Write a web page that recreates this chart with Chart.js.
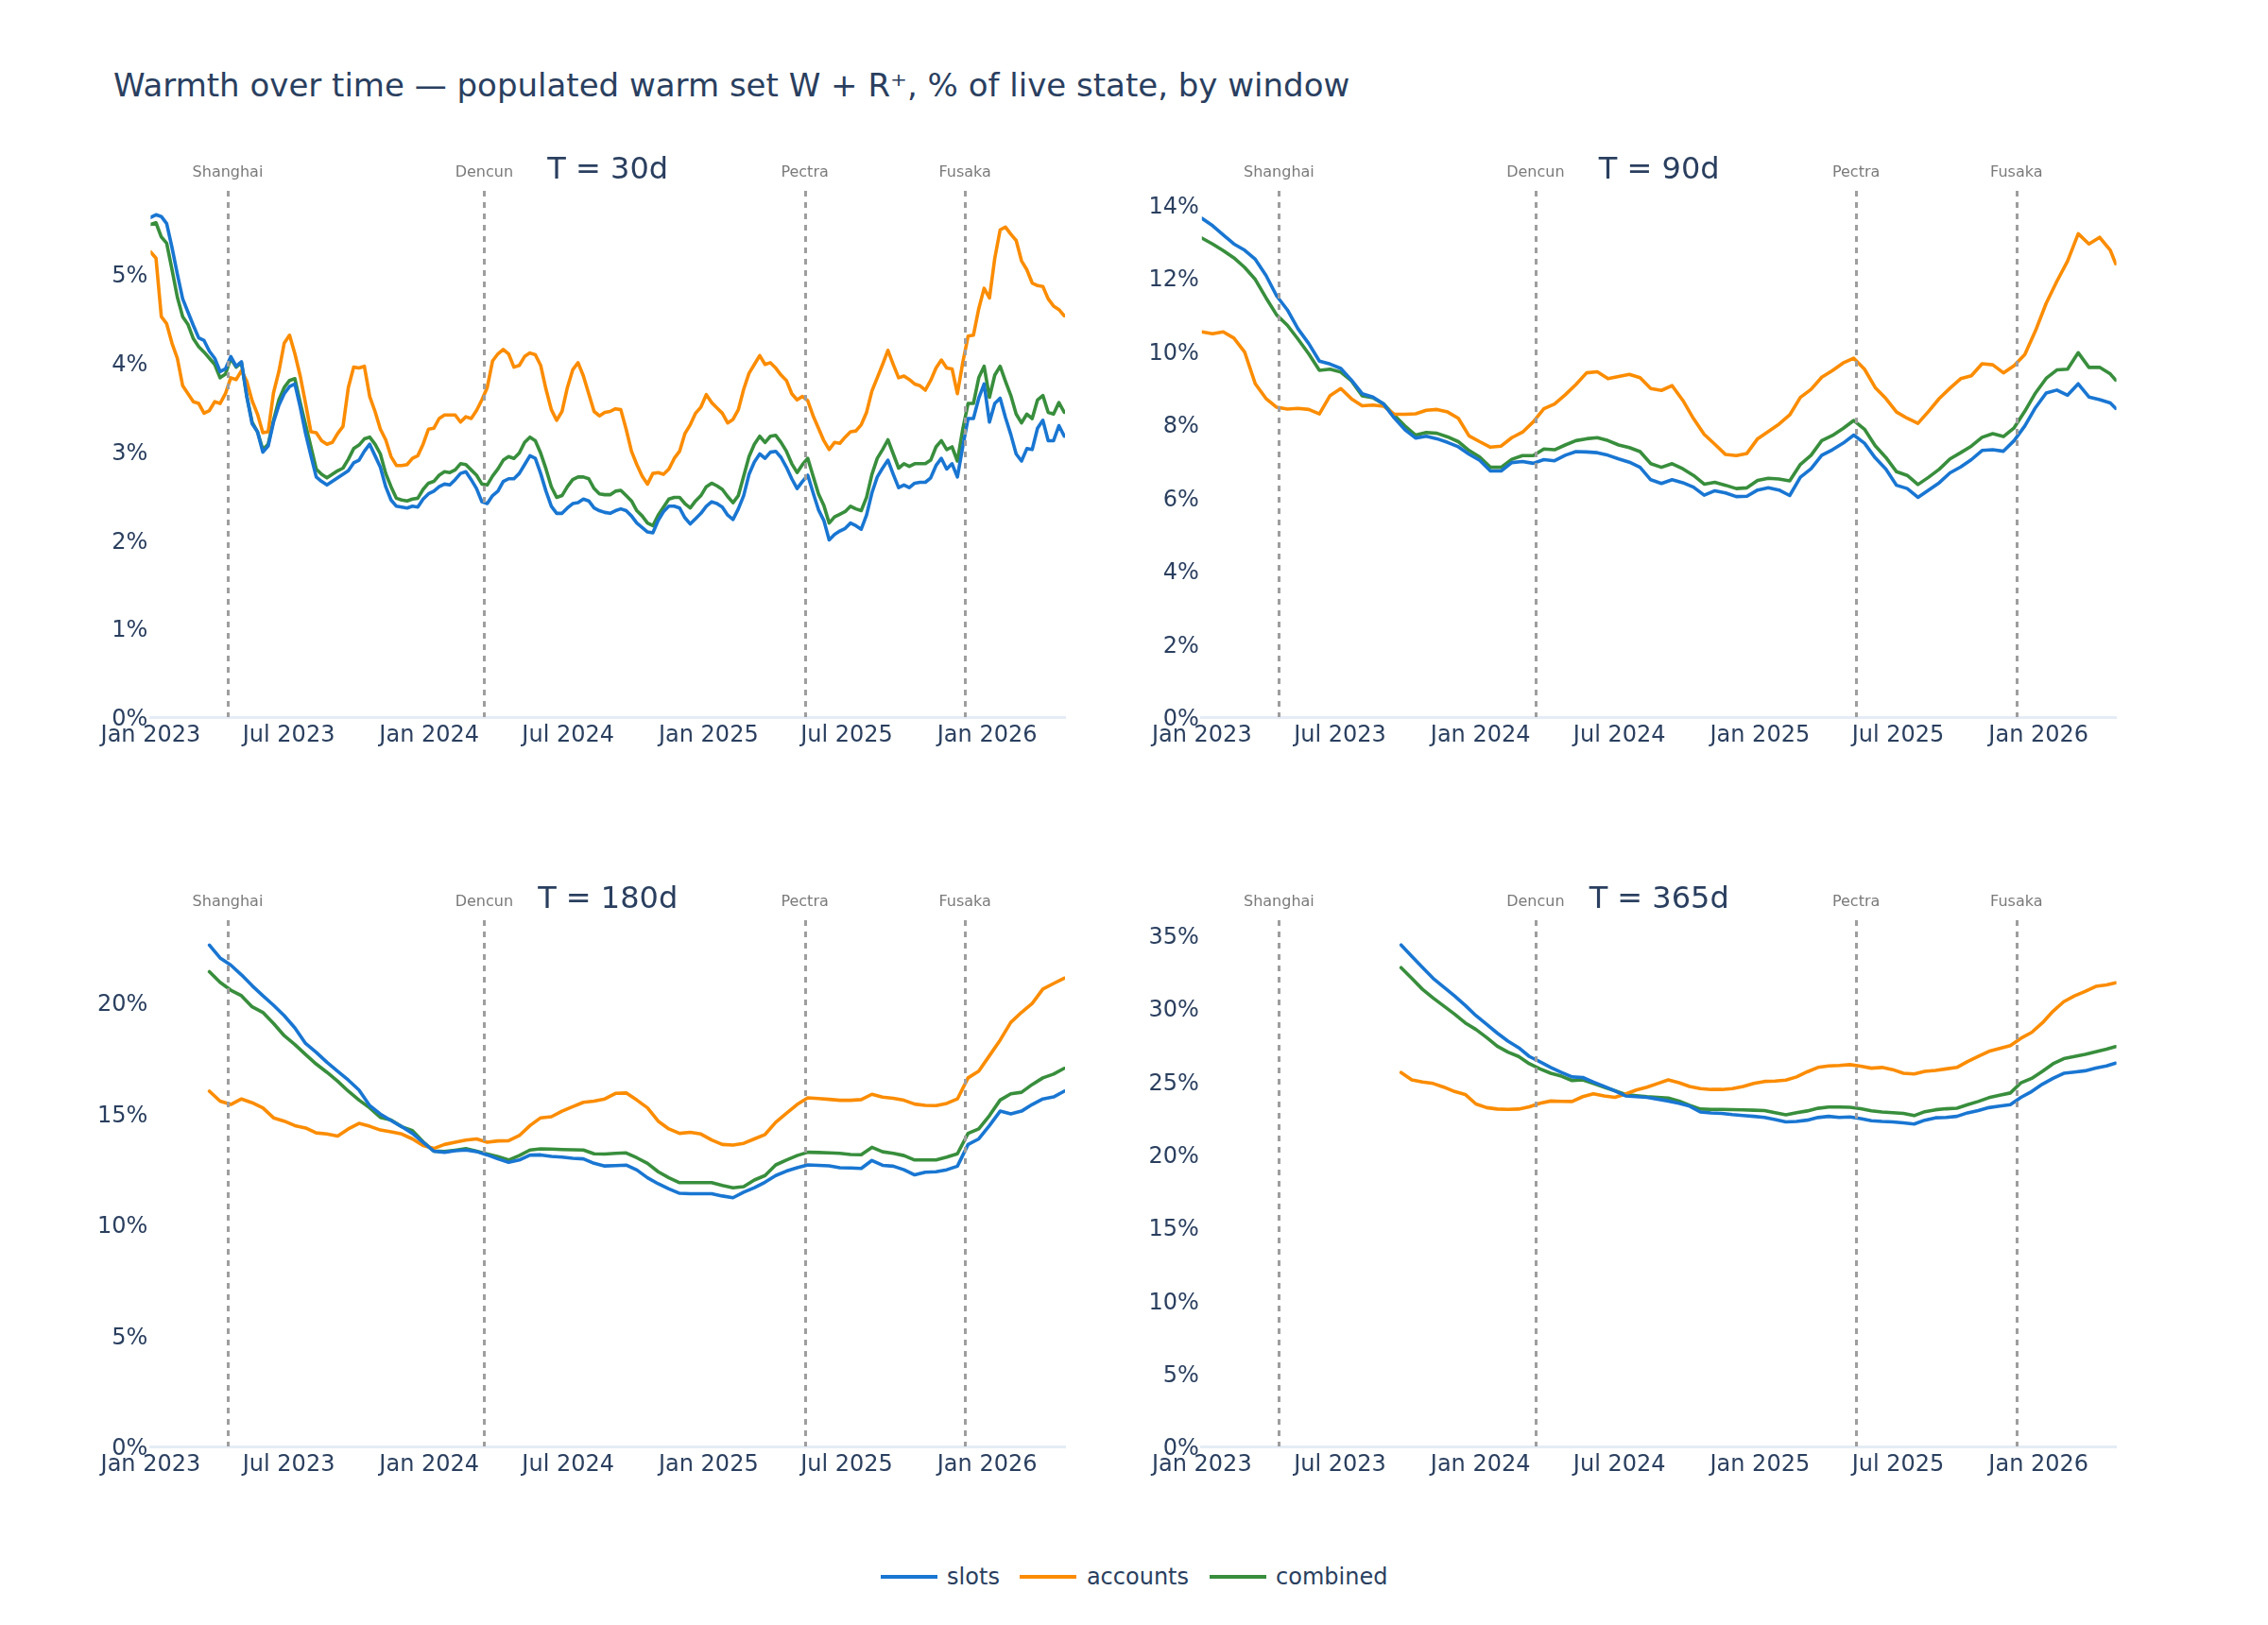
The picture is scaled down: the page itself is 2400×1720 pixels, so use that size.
<!DOCTYPE html>
<html><head><meta charset="utf-8">
<script src="https://cdn.jsdelivr.net/npm/chart.js@4.4.1/dist/chart.umd.min.js"></script>
<style>
html,body{margin:0;padding:0;background:#fff;}
body{width:2400px;height:1720px;position:relative;overflow:hidden;font-family:'DejaVu Sans',sans-serif;color:#2a3f5f;}
.panel{position:absolute;width:1200px;height:680px;}
.panel canvas{display:block;}
#title{position:absolute;left:120px;top:70px;font-size:34px;line-height:40px;white-space:nowrap;}
#legend{position:absolute;left:0;top:1649px;width:2400px;display:flex;justify-content:center;align-items:center;font-size:24px;line-height:40px;}
.item{display:flex;align-items:center;margin:0 10.75px;}
.sw{width:60px;height:4px;margin-right:10.5px;}
</style></head>
<body>
<div id="title">Warmth over time — populated warm set W + R⁺, % of live state, by window</div>
<div class="panel" id="d30" style="left:0;top:140px"><canvas id="c30" width="1200" height="680"></canvas></div>
<div class="panel" id="d90" style="left:1200px;top:140px"><canvas id="c90" width="1200" height="680"></canvas></div>
<div class="panel" id="d180" style="left:0;top:912px"><canvas id="c180" width="1200" height="680"></canvas></div>
<div class="panel" id="d365" style="left:1200px;top:912px"><canvas id="c365" width="1200" height="680"></canvas></div>
<div id="legend"></div>
<script>
// ---------- DATA (x = days since 2023-01-01) ----------
const SERIES_NAMES = ['slots', 'accounts', 'combined'];
const EVENT_NAMES = ['Shanghai', 'Dencun', 'Pectra', 'Fusaka'];
const EVENT_DAYS = [101, 437, 857, 1067];
const X_TICK_DAYS = [0, 181, 365, 547, 731, 912, 1096];
const X_TICK_LABELS = ['Jan 2023', 'Jul 2023', 'Jan 2024', 'Jul 2024', 'Jan 2025', 'Jul 2025', 'Jan 2026'];

// T = 30d
const days30 = [0,7,14,21,28,35,42,49,56,63,70,77,84,91,98,105,112,119,126,133,140,147,154,161,168,175,182,189,196,203,210,217,224,231,238,245,252,259,266,273,280,287,294,301,308,315,322,329,336,343,350,357,364,371,378,385,392,399,406,413,420,427,434,441,448,455,462,469,476,483,490,497,504,511,518,525,532,539,546,553,560,567,574,581,588,595,602,609,616,623,630,637,644,651,658,665,672,679,686,693,700,707,714,721,728,735,742,749,756,763,770,777,784,791,798,805,812,819,826,833,840,847,854,861,868,875,882,889,896,903,910,917,924,931,938,945,952,959,966,973,980,987,994,1001,1008,1015,1022,1029,1036,1043,1050,1057,1064,1071,1078,1085,1092,1099,1106,1113,1120,1127,1134,1141,1148,1155,1162,1169,1176,1183,1190,1197];
const slots30 = [5.64,5.67,5.65,5.57,5.30,5.00,4.72,4.57,4.42,4.28,
4.25,4.13,4.05,3.90,3.93,4.07,3.96,4.01,3.62,3.31,
3.22,2.99,3.06,3.33,3.52,3.65,3.73,3.76,3.50,3.20,
2.95,2.71,2.66,2.62,2.66,2.70,2.74,2.78,2.87,2.90,
3.00,3.08,2.95,2.82,2.60,2.45,2.38,2.37,2.36,2.38,
2.37,2.46,2.52,2.55,2.60,2.63,2.62,2.68,2.75,2.77,
2.68,2.58,2.43,2.41,2.50,2.55,2.66,2.69,2.69,2.75,
2.85,2.95,2.92,2.75,2.55,2.38,2.30,2.30,2.36,2.41,
2.42,2.46,2.44,2.36,2.33,2.31,2.30,2.33,2.35,2.33,
2.27,2.19,2.14,2.09,2.08,2.22,2.32,2.38,2.38,2.36,
2.25,2.18,2.24,2.30,2.38,2.43,2.41,2.37,2.28,2.23,
2.35,2.50,2.74,2.88,2.97,2.92,2.99,3.00,2.93,2.82,
2.69,2.58,2.66,2.73,2.53,2.34,2.22,2.00,2.06,2.10,
2.13,2.19,2.16,2.12,2.28,2.53,2.71,2.81,2.90,2.74,
2.59,2.62,2.59,2.64,2.65,2.65,2.70,2.84,2.92,2.80,
2.86,2.71,3.05,3.37,3.37,3.60,3.76,3.33,3.54,3.60,
3.38,3.19,2.97,2.89,3.03,3.02,3.26,3.35,3.12,3.12,
3.29,3.17];
const accounts30 = [5.25,5.18,4.52,4.44,4.22,4.05,3.74,3.65,3.56,3.54,
3.43,3.46,3.56,3.54,3.65,3.83,3.81,3.91,3.79,3.57,
3.42,3.21,3.22,3.66,3.90,4.22,4.31,4.10,3.85,3.54,
3.22,3.21,3.12,3.08,3.10,3.20,3.28,3.72,3.95,3.94,
3.96,3.62,3.45,3.25,3.13,2.94,2.84,2.84,2.85,2.92,
2.95,3.08,3.25,3.26,3.37,3.41,3.41,3.41,3.33,3.39,
3.37,3.46,3.58,3.72,4.02,4.10,4.15,4.10,3.95,3.97,
4.07,4.11,4.09,3.97,3.70,3.47,3.35,3.45,3.72,3.92,
4.00,3.85,3.65,3.45,3.40,3.44,3.45,3.48,3.47,3.25,
3.00,2.85,2.72,2.63,2.75,2.76,2.74,2.80,2.92,3.00,
3.20,3.30,3.43,3.50,3.64,3.55,3.49,3.43,3.32,3.36,
3.47,3.70,3.88,3.98,4.08,3.98,4.00,3.94,3.86,3.80,
3.65,3.58,3.62,3.57,3.40,3.26,3.12,3.02,3.10,3.09,
3.16,3.22,3.23,3.30,3.44,3.68,3.83,3.98,4.14,3.98,
3.83,3.85,3.81,3.76,3.74,3.69,3.80,3.94,4.03,3.94,
3.93,3.65,4.00,4.30,4.31,4.61,4.84,4.73,5.18,5.50,
5.53,5.45,5.38,5.15,5.05,4.90,4.87,4.86,4.72,4.64,
4.60,4.53];
const combined30 = [5.56,5.58,5.42,5.35,5.05,4.74,4.52,4.43,4.27,4.18,
4.12,4.05,3.98,3.83,3.87,4.05,3.95,4.00,3.62,3.33,
3.22,3.02,3.08,3.35,3.58,3.72,3.80,3.82,3.55,3.30,
3.05,2.80,2.74,2.70,2.74,2.78,2.81,2.91,3.03,3.07,
3.14,3.16,3.08,2.97,2.75,2.60,2.47,2.45,2.44,2.46,
2.47,2.57,2.64,2.66,2.73,2.77,2.76,2.79,2.86,2.85,
2.79,2.73,2.63,2.62,2.72,2.80,2.90,2.94,2.92,2.98,
3.10,3.16,3.12,2.98,2.80,2.60,2.48,2.50,2.60,2.68,
2.71,2.71,2.69,2.58,2.52,2.51,2.51,2.55,2.56,2.50,
2.44,2.33,2.27,2.19,2.16,2.28,2.37,2.46,2.48,2.48,
2.41,2.36,2.44,2.50,2.60,2.64,2.61,2.57,2.49,2.42,
2.50,2.72,2.94,3.08,3.17,3.10,3.17,3.18,3.10,3.00,
2.86,2.76,2.85,2.92,2.72,2.52,2.39,2.19,2.26,2.29,
2.32,2.38,2.35,2.33,2.48,2.74,2.92,3.02,3.13,2.97,
2.81,2.86,2.83,2.86,2.86,2.86,2.90,3.05,3.12,3.02,
3.05,2.89,3.25,3.54,3.54,3.83,3.96,3.61,3.86,3.96,
3.79,3.63,3.42,3.32,3.42,3.37,3.58,3.63,3.44,3.42,
3.55,3.44];

// T = 90d
const days90 = [0,14,28,42,56,70,84,98,112,126,140,154,168,182,196,210,224,238,252,266,280,294,308,322,336,350,364,378,392,406,420,434,448,462,476,490,504,518,532,546,560,574,588,602,616,630,644,658,672,686,700,714,728,742,756,770,784,798,812,826,840,854,868,882,896,910,924,938,952,966,980,994,1008,1022,1036,1050,1064,1078,1092,1106,1120,1134,1148,1162,1176,1190,1197];
const slots90 = [13.62,13.42,13.17,12.92,12.75,12.50,12.06,11.50,11.12,10.60,
10.20,9.72,9.64,9.52,9.20,8.83,8.74,8.55,8.17,7.85,
7.62,7.67,7.60,7.50,7.38,7.18,7.01,6.72,6.72,6.95,
6.98,6.93,7.03,7.00,7.15,7.25,7.24,7.22,7.15,7.05,
6.96,6.82,6.48,6.38,6.48,6.40,6.28,6.06,6.18,6.12,
6.02,6.03,6.20,6.26,6.20,6.05,6.55,6.78,7.15,7.30,
7.48,7.70,7.48,7.08,6.77,6.33,6.24,6.00,6.20,6.40,
6.67,6.83,7.03,7.28,7.30,7.26,7.55,7.95,8.45,8.85,
8.93,8.79,9.10,8.74,8.67,8.58,8.43];
const accounts90 = [10.52,10.47,10.52,10.35,9.97,9.10,8.70,8.46,8.41,8.43,
8.40,8.28,8.78,8.97,8.69,8.50,8.52,8.49,8.27,8.27,
8.28,8.38,8.40,8.33,8.16,7.68,7.52,7.37,7.40,7.63,
7.78,8.06,8.42,8.55,8.80,9.08,9.40,9.43,9.24,9.30,
9.36,9.27,8.97,8.92,9.05,8.65,8.15,7.72,7.45,7.17,
7.14,7.20,7.60,7.80,8.00,8.25,8.73,8.95,9.28,9.46,
9.67,9.80,9.50,9.00,8.70,8.33,8.16,8.02,8.35,8.70,
8.98,9.24,9.32,9.65,9.62,9.40,9.60,9.90,10.55,11.30,
11.90,12.45,13.20,12.92,13.10,12.75,12.38];
const combined90 = [13.08,12.92,12.74,12.54,12.28,11.95,11.45,10.98,10.70,10.32,
9.92,9.47,9.50,9.42,9.18,8.77,8.72,8.55,8.24,7.95,
7.70,7.77,7.75,7.65,7.52,7.28,7.10,6.82,6.82,7.04,
7.14,7.14,7.32,7.30,7.43,7.55,7.60,7.63,7.55,7.43,
7.36,7.25,6.92,6.82,6.92,6.78,6.60,6.36,6.41,6.33,
6.24,6.26,6.46,6.52,6.50,6.45,6.90,7.15,7.55,7.69,
7.88,8.10,7.86,7.41,7.09,6.70,6.60,6.35,6.55,6.77,
7.05,7.22,7.40,7.64,7.74,7.66,7.90,8.35,8.85,9.25,
9.48,9.50,9.95,9.55,9.55,9.37,9.20];

// T = 180d
const days180 = [77,91,105,119,133,147,161,175,189,203,217,231,245,259,273,287,301,315,329,343,357,371,385,399,413,427,441,455,469,483,497,511,525,539,553,567,581,595,609,623,637,651,665,679,693,707,721,735,749,763,777,791,805,819,833,847,861,875,889,903,917,931,945,959,973,987,1001,1015,1029,1043,1057,1071,1085,1099,1113,1127,1141,1155,1169,1183,1197];
const slots180 = [22.58,22.00,21.68,21.24,20.75,20.30,19.87,19.40,18.85,18.15,
17.75,17.30,16.90,16.50,16.05,15.35,14.97,14.68,14.40,14.10,
13.70,13.30,13.25,13.32,13.35,13.28,13.13,12.95,12.80,12.90,
13.12,13.13,13.06,13.03,12.98,12.95,12.75,12.63,12.65,12.67,
12.45,12.10,11.83,11.60,11.40,11.38,11.38,11.38,11.28,11.20,
11.45,11.65,11.90,12.20,12.40,12.55,12.68,12.66,12.64,12.55,
12.54,12.52,12.88,12.66,12.62,12.46,12.23,12.35,12.37,12.46,
12.62,13.60,13.85,14.45,15.10,14.98,15.10,15.40,15.65,15.74,
16.00];
const accounts180 = [16.00,15.55,15.40,15.65,15.48,15.25,14.80,14.65,14.45,14.34,
14.12,14.07,13.98,14.30,14.55,14.42,14.25,14.17,14.07,13.85,
13.55,13.42,13.60,13.70,13.80,13.85,13.70,13.76,13.77,14.00,
14.45,14.80,14.85,15.10,15.30,15.50,15.55,15.65,15.90,15.92,
15.60,15.25,14.65,14.30,14.10,14.15,14.07,13.80,13.60,13.57,
13.65,13.85,14.05,14.60,15.00,15.40,15.70,15.67,15.63,15.59,
15.59,15.62,15.86,15.73,15.68,15.59,15.42,15.36,15.35,15.45,
15.65,16.60,16.90,17.60,18.30,19.10,19.55,19.95,20.60,20.85,
21.09];
const combined180 = [21.38,20.90,20.55,20.30,19.80,19.55,19.05,18.50,18.10,17.65,
17.22,16.85,16.45,16.00,15.60,15.25,14.82,14.70,14.40,14.22,
13.72,13.30,13.28,13.34,13.41,13.30,13.17,13.05,12.90,13.10,
13.35,13.40,13.39,13.37,13.36,13.35,13.18,13.17,13.20,13.22,
13.00,12.75,12.37,12.10,11.88,11.88,11.88,11.88,11.75,11.65,
11.70,12.00,12.20,12.68,12.90,13.10,13.25,13.24,13.22,13.20,
13.15,13.14,13.47,13.27,13.20,13.10,12.90,12.90,12.90,13.03,
13.18,14.10,14.30,14.90,15.60,15.88,15.95,16.30,16.60,16.77,
17.03];

// T = 365d
const days365 = [261,275,289,303,317,331,345,359,373,387,401,415,429,443,457,471,485,499,513,527,541,555,569,583,597,611,625,639,653,667,681,695,709,723,737,751,765,779,793,807,821,835,849,863,877,891,905,919,933,947,961,975,989,1003,1017,1031,1045,1059,1073,1087,1101,1115,1129,1143,1157,1171,1185,1197];
const slots365 = [34.33,33.55,32.80,32.05,31.45,30.85,30.20,29.50,28.90,28.30,
27.75,27.30,26.70,26.33,25.95,25.61,25.30,25.26,24.95,24.65,
24.35,24.00,23.95,23.90,23.78,23.65,23.50,23.30,22.90,22.83,
22.80,22.72,22.66,22.60,22.53,22.38,22.22,22.25,22.34,22.52,
22.60,22.53,22.56,22.44,22.30,22.25,22.22,22.15,22.07,22.34,
22.50,22.53,22.60,22.84,23.00,23.20,23.30,23.40,23.90,24.30,
24.80,25.20,25.55,25.63,25.72,25.90,26.05,26.24];
const accounts365 = [25.60,25.10,24.95,24.85,24.60,24.30,24.10,23.45,23.20,23.10,
23.08,23.10,23.25,23.50,23.65,23.63,23.62,23.95,24.15,24.00,
23.90,24.13,24.40,24.60,24.85,25.10,24.90,24.65,24.50,24.44,
24.44,24.50,24.65,24.85,24.99,25.02,25.08,25.30,25.65,25.95,
26.05,26.08,26.14,26.03,25.90,25.95,25.80,25.55,25.50,25.68,
25.75,25.85,25.95,26.35,26.70,27.05,27.25,27.45,27.95,28.35,
29.00,29.80,30.45,30.85,31.15,31.50,31.60,31.74];
const combined365 = [32.78,32.05,31.30,30.70,30.15,29.60,29.00,28.55,28.00,27.40,
27.00,26.70,26.20,25.85,25.55,25.35,25.05,25.10,24.85,24.60,
24.35,24.10,24.02,23.95,23.90,23.85,23.65,23.35,23.10,23.08,
23.08,23.06,23.04,23.02,23.00,22.85,22.70,22.85,22.97,23.15,
23.24,23.24,23.22,23.12,22.98,22.90,22.85,22.80,22.65,22.92,
23.05,23.12,23.16,23.40,23.62,23.88,24.05,24.20,24.90,25.20,
25.68,26.20,26.55,26.70,26.85,27.03,27.20,27.38];

const Y_TICKS_30 = [0,1,2,3,4,5];
const Y_TICKS_90 = [0,2,4,6,8,10,12,14];
const Y_TICKS_180 = [0,5,10,15,20];
const Y_TICKS_365 = [0,5,10,15,20,25,30,35];

// ---------- STYLE ----------
const COLORS = ['#1976D2', '#FB8C00', '#388E3C'];
const INK = '#2a3f5f';
const FONT = "'DejaVu Sans'";
Chart.defaults.font.family = FONT;

const decor = {
  id: 'decor',
  afterDatasetsDraw(chart, args, opts) {
    const {ctx, chartArea: a, scales: {x}} = chart;
    ctx.save();
    ctx.strokeStyle = '#9e9e9e';
    ctx.lineWidth = 3;
    ctx.setLineDash([6, 6]);
    EVENT_DAYS.forEach(d => {
      const px = Math.round(x.getPixelForValue(d)) + 0.5;
      ctx.beginPath(); ctx.moveTo(px, a.top); ctx.lineTo(px, a.bottom); ctx.stroke();
    });
    ctx.setLineDash([]);
    ctx.textAlign = 'center'; ctx.textBaseline = 'middle';
    ctx.fillStyle = '#7a7a7a'; ctx.font = '16px ' + FONT;
    EVENT_NAMES.forEach((n, i) => ctx.fillText(n, x.getPixelForValue(EVENT_DAYS[i]), a.top - 19.5));
    ctx.fillStyle = INK; ctx.font = '32px ' + FONT;
    ctx.fillText(opts.title, (a.left + a.right) / 2, a.top - 21);
    ctx.restore();
  }
};

function makePanel(canvasId, title, days, series, yMax, yTicks, padL, padR) {
  const datasets = series.map((vals, i) => ({
    label: SERIES_NAMES[i],
    data: days.map((d, j) => ({x: d, y: vals[j]})),
    borderColor: COLORS[i], backgroundColor: COLORS[i],
    borderWidth: 3.6, pointRadius: 0, tension: 0, fill: false,
    borderJoinStyle: 'round', borderCapStyle: 'round'
  }));
  new Chart(document.getElementById(canvasId), {
    type: 'line',
    data: {datasets},
    plugins: [decor],
    options: {
      responsive: false, animation: false, devicePixelRatio: 1,
      layout: {padding: {left: padL, right: padR, top: 62, bottom: 21}},
      plugins: {legend: {display: false}, tooltip: {enabled: false}, decor: {title}},
      scales: {
        x: {
          type: 'linear', min: 0, max: 1198,
          grid: {display: false, drawTicks: false},
          border: {display: true, color: '#E5ECF6', width: 3},
          afterBuildTicks: s => { s.ticks = X_TICK_DAYS.map(v => ({value: v})); },
          afterFit: s => { s.height = 40; },
          ticks: {autoSkip: false, maxRotation: 0, minRotation: 0, padding: 5, color: INK,
                  font: {size: 24}, callback: (v, i) => X_TICK_LABELS[i]}
        },
        y: {
          type: 'linear', min: 0, max: yMax,
          grid: {display: false, drawTicks: false},
          border: {display: false},
          afterBuildTicks: s => { s.ticks = yTicks.map(v => ({value: v})); },
          afterFit: s => { s.width = 60; },
          ticks: {padding: 3, labelOffset: 3, color: INK, font: {size: 24}, callback: v => v + '%'}
        }
      }
    }
  });
}

makePanel('c30', 'T = 30d', days30, [slots30, accounts30, combined30], 5.94, Y_TICKS_30, 99.4, 73);
makePanel('c90', 'T = 90d', days90, [slots90, accounts90, combined90], 14.37, Y_TICKS_90, 11.8, 160.4);
makePanel('c180', 'T = 180d', days180, [slots180, accounts180, combined180], 23.7, Y_TICKS_180, 99.4, 73);
makePanel('c365', 'T = 365d', days365, [slots365, accounts365, combined365], 36.03, Y_TICKS_365, 11.8, 160.4);

// legend
const lg = document.getElementById('legend');
SERIES_NAMES.forEach((n, i) => {
  const it = document.createElement('div'); it.className = 'item';
  const sw = document.createElement('div'); sw.className = 'sw'; sw.style.background = COLORS[i];
  const tx = document.createElement('span'); tx.textContent = n;
  it.appendChild(sw); it.appendChild(tx); lg.appendChild(it);
});
</script>
</body></html>
